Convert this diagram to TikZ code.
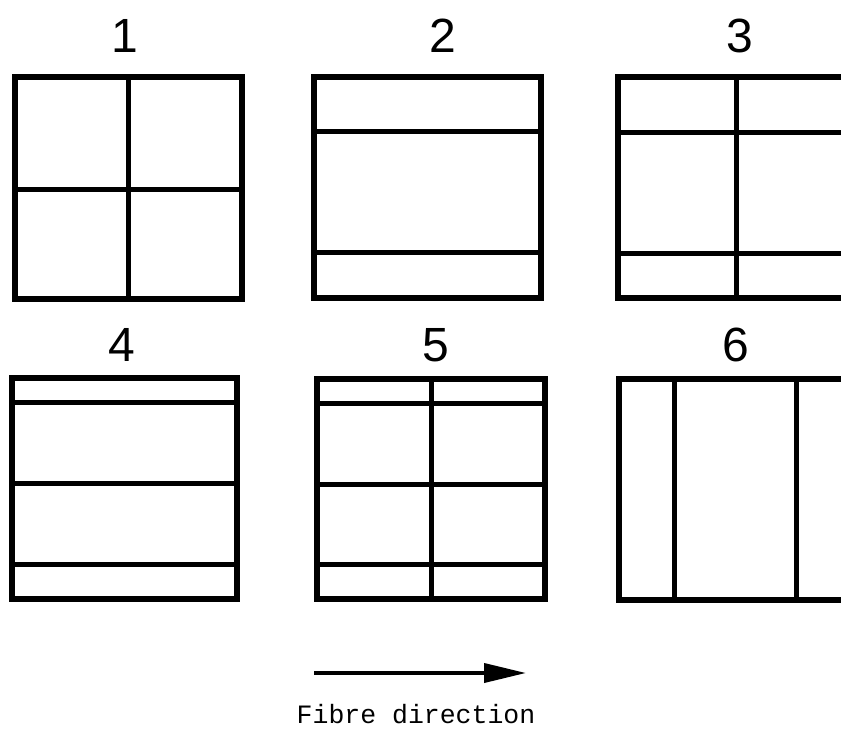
\documentclass[tikz,border=0pt]{standalone}
\usepackage{fontspec}
\setmainfont{Liberation Sans}
\newfontfamily\monof{Liberation Mono}
\usetikzlibrary{arrows.meta}
\begin{document}
\begin{tikzpicture}[x=1pt,y=-1pt,
  frame/.style={line width=5.4pt,line join=miter},
  divider/.style={line width=5pt},
  numlabel/.style={font=\fontsize{48}{48}\selectfont,inner sep=0pt,anchor=center},
  fibrearrow/.style={line width=3.8pt,-{Triangle[length=42pt,width=19pt]}},
  caption/.style={font=\monof\fontsize{26.5}{26.5}\selectfont,inner sep=0pt,anchor=base}]
\useasboundingbox (0,0) rectangle (841,731);
\clip (0,0) rectangle (841,731);
% labels
\node[numlabel] (n1) at (125,36) {1};
\node[numlabel] (n2) at (443,36) {2};
\node[numlabel] (n3) at (740,36) {3};
\node[numlabel] (n4) at (122,345) {4};
\node[numlabel] (n5) at (436,345) {5};
\node[numlabel] (n6) at (736,345) {6};
% box 1
\draw[divider] (128,77) -- (128,299);
\draw[divider] (15,189) -- (242,189);
\draw[frame] (15,77) rectangle (242,299);
% box 2
\draw[divider] (314,131) -- (541,131);
\draw[divider] (314,252) -- (541,252);
\draw[frame] (314,77) rectangle (541,298);
% box 3
\draw[divider] (736,77) -- (736,298);
\draw[divider] (618,132) -- (845,132);
\draw[divider] (618,253) -- (845,253);
\draw[frame] (618,77) rectangle (845,298);
% box 4
\draw[divider] (12,402) -- (237,402);
\draw[divider] (12,483) -- (237,483);
\draw[divider] (12,564) -- (237,564);
\draw[frame] (12,378) rectangle (237,599);
% box 5
\draw[divider] (431,379) -- (431,599);
\draw[divider] (317,403) -- (545,403);
\draw[divider] (317,484) -- (545,484);
\draw[divider] (317,564) -- (545,564);
\draw[frame] (317,379) rectangle (545,599);
% box 6
\draw[divider] (674,379) -- (674,600);
\draw[divider] (796,379) -- (796,600);
\draw[frame] (619,379) rectangle (846,600);
% fibre direction arrow
\coordinate (as) at (314,673);
\coordinate (ae) at (526,673);
\draw[fibrearrow] (as) -- (ae);
\node[caption] (lbl) at (416,723) {Fibre direction};
\end{tikzpicture}
\end{document}
